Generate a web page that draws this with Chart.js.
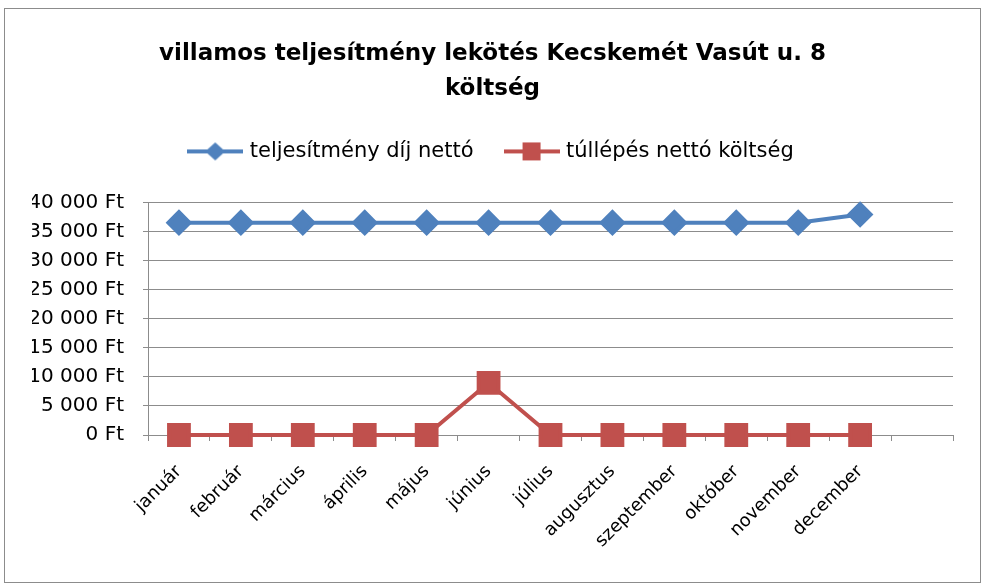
<!DOCTYPE html>
<html>
<head>
<meta charset="utf-8">
<script src="https://cdn.jsdelivr.net/npm/chart.js@4/dist/chart.umd.min.js"></script>
<style>
  body { margin: 0; background: #fff; }
  #frame { position: absolute; left: 4px; top: 8px; width: 977px; height: 575px; box-sizing: border-box; border: 1px solid #8c8c8c; }
  #chart { display: block; }
</style>
</head>
<body>
<div id="frame"><canvas id="chart" width="975" height="573"></canvas></div>
<script>
const honapok = ['január', 'február', 'március', 'április', 'május', 'június',
  'július', 'augusztus', 'szeptember', 'október', 'november', 'december', ''];
const teljesitmenyDij = [36600, 36600, 36600, 36600, 36600, 36600,
  36600, 36600, 36600, 36600, 36600, 38000, null];
const tullepesKoltseg = [0, 0, 0, 0, 0, 9000, 0, 0, 0, 0, 0, 0, null];
const yTicks = [0, 5000, 10000, 15000, 20000, 25000, 30000, 35000, 40000];

const KEK = '#4f81bd';
const PIROS = '#c0504d';
const FONT = 'DejaVu Sans';

// jelmagyarázat: vonal + jelölő, mint az Excelben
function legendIcon(color, style) {
  const c = document.createElement('canvas');
  c.width = 56; c.height = 22;
  const g = c.getContext('2d');
  g.strokeStyle = color; g.lineWidth = 4;
  g.beginPath(); g.moveTo(0, 11); g.lineTo(56, 11); g.stroke();
  g.fillStyle = color;
  g.beginPath();
  if (style === 'diamond') {
    g.moveTo(28, 2); g.lineTo(38, 11); g.lineTo(28, 20); g.lineTo(18, 11);
  } else {
    g.rect(19, 2, 18, 18);
  }
  g.fill();
  return c;
}

function ft(v) {
  return String(v).replace(/\B(?=(\d{3})+(?!\d))/g, ' ') + ' Ft';
}

// hely a jelmagyarázat alatt
const legendGap = {
  id: 'legendGap',
  beforeInit(chart) {
    const fit = chart.legend.fit;
    chart.legend.fit = function () {
      fit.call(this);
      this.height += 31;
    };
  }
};

new Chart(document.getElementById('chart'), {
  type: 'line',
  data: {
    labels: honapok,
    datasets: [{
      label: 'teljesítmény díj nettó',
      data: teljesitmenyDij,
      borderColor: KEK,
      backgroundColor: KEK,
      borderWidth: 4,
      pointStyle: 'rectRot',
      pointRadius: 10.5,
      pointHoverRadius: 10.5,
      clip: false,
      tension: 0
    }, {
      label: 'túllépés nettó költség',
      data: tullepesKoltseg,
      borderColor: PIROS,
      backgroundColor: PIROS,
      borderWidth: 4,
      pointStyle: 'rect',
      pointRadius: 14,
      pointHoverRadius: 14,
      clip: false,
      tension: 0
    }]
  },
  plugins: [legendGap],
  options: {
    responsive: false,
    animation: false,
    layout: { padding: { top: 0, right: 27, bottom: 0, left: 27 } },
    plugins: {
      tooltip: { enabled: false },
      title: {
        display: true,
        text: ['villamos teljesítmény lekötés Kecskemét Vasút u. 8', 'költség'],
        color: '#000',
        font: { family: FONT, size: 23, weight: 'bold', lineHeight: 1.52 },
        padding: { top: 28, bottom: 0 }
      },
      legend: {
        position: 'top',
        labels: {
          color: '#000',
          font: { family: FONT, size: 21 },
          usePointStyle: true,
          pointStyleWidth: 48,
          padding: 34,
          generateLabels: chart => chart.data.datasets.map((ds, i) => ({
            text: ds.label,
            pointStyle: legendIcon(ds.borderColor, i === 0 ? 'diamond' : 'square'),
            fillStyle: ds.backgroundColor,
            strokeStyle: ds.borderColor,
            lineWidth: 0,
            fontColor: '#000',
            datasetIndex: i
          }))
        }
      }
    },
    scales: {
      x: {
        offset: true,
        grid: { display: true, drawOnChartArea: false, offset: true, tickLength: 6, color: '#8c8c8c' },
        border: { color: '#8c8c8c', width: 1 },
        ticks: {
          color: '#000',
          font: { family: FONT, size: 18 },
          minRotation: 45, maxRotation: 45,
          autoSkip: false,
          padding: 20
        },
        afterFit: s => { s.height = 147; }
      },
      y: {
        min: 0, max: 40000,
        afterBuildTicks: s => { s.ticks = yTicks.map(v => ({ value: v })); },
        grid: { color: '#8c8c8c', tickLength: 5 },
        border: { color: '#8c8c8c', width: 1 },
        ticks: {
          color: '#000',
          font: { family: FONT, size: 20 },
          padding: 19,
          callback: v => ft(v)
        },
        afterFit: s => { s.width = 116; }
      }
    }
  }
});
</script>
</body>
</html>
